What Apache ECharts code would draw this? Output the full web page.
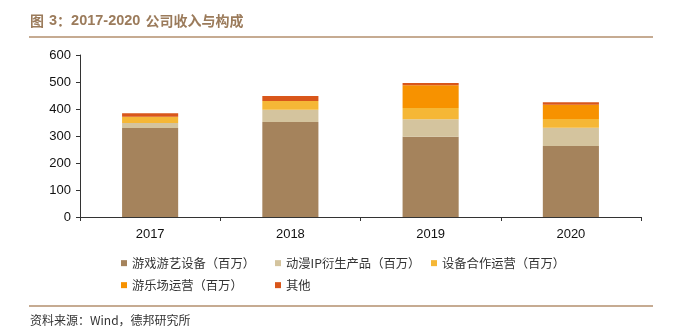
<!DOCTYPE html>
<html><head><meta charset="utf-8">
<script src="https://cdn.jsdelivr.net/npm/echarts@6/dist/echarts.min.js"></script>
<style>html,body{margin:0;padding:0;background:#fff}#c{width:675px;height:333px}</style>
</head><body><div id="c"></div>
<script>
var categories = ['2017', '2018', '2019', '2020'];
var seriesNames = ['游戏游艺设备（百万）', '动漫IP衍生产品（百万）', '设备合作运营（百万）', '游乐场运营（百万）', '其他'];
var gameEquip = [330, 352, 297, 263];
var animeIP = [18, 45, 65, 68];
var equipOps = [23, 33, 42, 32];
var parkOps = [0, 0, 84, 53];
var others = [13, 18, 8, 9];
var yTicks = [0, 100, 200, 300, 400, 500, 600];

var colors = ['#a5835c', '#d4c49e', '#f5b736', '#f79200', '#d9561a'];
var allData = [gameEquip, animeIP, equipOps, parkOps, others];
var cn = '"Noto Sans CJK SC", sans-serif';
var latin = '"Liberation Sans", Arial, sans-serif';
var legendPos = [[121, 257], [275, 257], [431, 257], [121, 279], [275, 279]];

var chart = echarts.init(document.getElementById('c'));
var series = seriesNames.map(function (n, i) {
  return {
    name: n, type: 'bar', stack: 'total', barWidth: '40%',
    data: allData[i], itemStyle: { color: colors[i] },
    emphasis: { disabled: true }
  };
});
var legends = seriesNames.map(function (n, i) {
  return {
    data: [n], left: legendPos[i][0], top: legendPos[i][1], padding: 0,
    icon: 'rect', itemWidth: 6, itemHeight: 6, itemGap: 0,
    textStyle: { fontFamily: cn, fontSize: 12.3, color: '#333' },
    selectedMode: false
  };
});
var titleColor = '#9b7b5b';
chart.setOption({
  animation: false,
  title: {
    text: '{c|图} {n|3}{c|：}{n|2017-2020} {c|公司收入与构成}', left: 30, top: 12, padding: 0,
    textStyle: {
      rich: {
        c: { fontFamily: cn, fontSize: 14, fontWeight: 'bold', color: titleColor },
        n: { fontFamily: latin, fontSize: 14.5, fontWeight: 'bold', color: titleColor }
      }
    }
  },
  graphic: [
    { type: 'line', shape: { x1: 29, y1: 37, x2: 653, y2: 37 }, style: { stroke: '#b38f6e', lineWidth: 1.5 } },
    { type: 'line', shape: { x1: 29, y1: 306, x2: 653, y2: 306 }, style: { stroke: '#b38f6e', lineWidth: 1.5 } },
    { type: 'text', left: 30, top: 314, style: { text: '资料来源：Wind，德邦研究所', font: '12px "Noto Sans CJK SC", sans-serif', fill: '#333' } }
  ],
  legend: legends,
  grid: { left: 80, right: 34, top: 55, bottom: 116, containLabel: false },
  xAxis: {
    type: 'category', data: categories,
    axisLine: { lineStyle: { color: '#333', width: 1 } },
    axisTick: { show: true, alignWithLabel: false, length: 4, inside: false, lineStyle: { color: '#333' } },
    axisLabel: { color: '#111', fontSize: 13, fontFamily: latin, margin: 11 }
  },
  yAxis: {
    type: 'value', min: yTicks[0], max: yTicks[yTicks.length - 1], interval: 100,
    axisLine: { show: true, lineStyle: { color: '#333', width: 1 } },
    axisTick: { show: true, length: 4, lineStyle: { color: '#333' } },
    splitLine: { show: false },
    axisLabel: { color: '#111', fontSize: 13, fontFamily: latin, margin: 9 }
  },
  series: series
});
</script></body></html>
